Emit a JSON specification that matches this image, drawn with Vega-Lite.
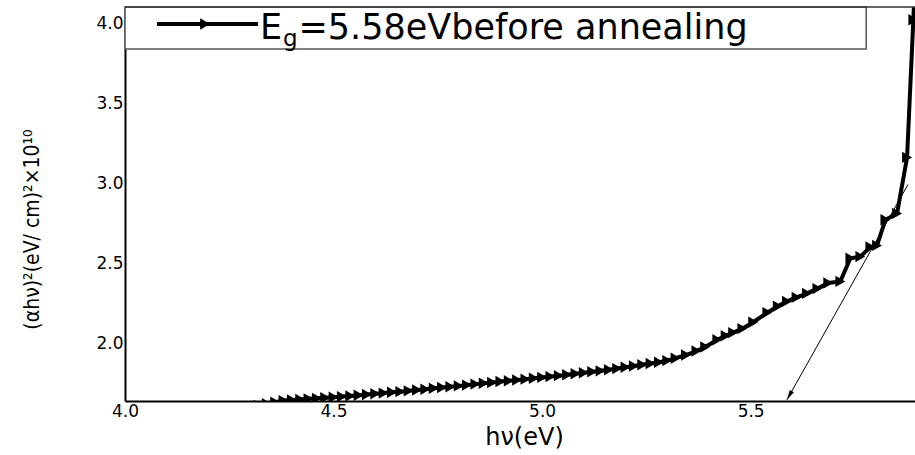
{
  "$schema": "https://vega.github.io/schema/vega-lite/v6.json",
  "width": 790,
  "height": 394,
  "autosize": {"type": "none"},
  "padding": {"left": 125, "top": 7, "right": 0, "bottom": 54},
  "background": "white",
  "config": {"view": {"stroke": null}, "font": "DejaVu Sans"},
  "datasets": {
    "curve": [
      {"e": 4.30, "v": 1.600}, {"e": 4.32, "v": 1.610}, {"e": 4.34, "v": 1.620}, {"e": 4.36, "v": 1.630},
      {"e": 4.38, "v": 1.640}, {"e": 4.40, "v": 1.644}, {"e": 4.42, "v": 1.647}, {"e": 4.44, "v": 1.651},
      {"e": 4.46, "v": 1.654}, {"e": 4.48, "v": 1.658}, {"e": 4.50, "v": 1.661}, {"e": 4.52, "v": 1.665},
      {"e": 4.54, "v": 1.669}, {"e": 4.56, "v": 1.673}, {"e": 4.58, "v": 1.678}, {"e": 4.60, "v": 1.683},
      {"e": 4.62, "v": 1.687}, {"e": 4.64, "v": 1.692}, {"e": 4.66, "v": 1.696}, {"e": 4.68, "v": 1.701},
      {"e": 4.70, "v": 1.706}, {"e": 4.72, "v": 1.711}, {"e": 4.74, "v": 1.717}, {"e": 4.76, "v": 1.722},
      {"e": 4.78, "v": 1.727}, {"e": 4.80, "v": 1.732}, {"e": 4.82, "v": 1.737}, {"e": 4.84, "v": 1.743},
      {"e": 4.86, "v": 1.748}, {"e": 4.88, "v": 1.753}, {"e": 4.90, "v": 1.759}, {"e": 4.92, "v": 1.764},
      {"e": 4.94, "v": 1.769}, {"e": 4.96, "v": 1.774}, {"e": 4.98, "v": 1.780}, {"e": 5.00, "v": 1.785},
      {"e": 5.02, "v": 1.790}, {"e": 5.04, "v": 1.796}, {"e": 5.06, "v": 1.802}, {"e": 5.08, "v": 1.808},
      {"e": 5.10, "v": 1.814}, {"e": 5.12, "v": 1.820}, {"e": 5.14, "v": 1.826}, {"e": 5.16, "v": 1.833},
      {"e": 5.18, "v": 1.840}, {"e": 5.20, "v": 1.848}, {"e": 5.22, "v": 1.856}, {"e": 5.24, "v": 1.864},
      {"e": 5.26, "v": 1.872}, {"e": 5.28, "v": 1.880}, {"e": 5.30, "v": 1.890}, {"e": 5.32, "v": 1.905},
      {"e": 5.345, "v": 1.925}, {"e": 5.37, "v": 1.950}, {"e": 5.391, "v": 1.975}, {"e": 5.42, "v": 2.02},
      {"e": 5.44, "v": 2.045}, {"e": 5.458, "v": 2.065}, {"e": 5.48, "v": 2.09}, {"e": 5.506, "v": 2.13},
      {"e": 5.54, "v": 2.19}, {"e": 5.565, "v": 2.23}, {"e": 5.587, "v": 2.26}, {"e": 5.61, "v": 2.285},
      {"e": 5.635, "v": 2.31}, {"e": 5.66, "v": 2.34}, {"e": 5.686, "v": 2.375}, {"e": 5.715, "v": 2.385},
      {"e": 5.739, "v": 2.53}, {"e": 5.763, "v": 2.54}, {"e": 5.787, "v": 2.60}, {"e": 5.803, "v": 2.61},
      {"e": 5.823, "v": 2.77}, {"e": 5.851, "v": 2.81}, {"e": 5.875, "v": 3.16}, {"e": 5.890, "v": 4.02},
      {"e": 5.896, "v": 4.40}
    ]
  },
  "layer": [
    {
      "data": {"name": "curve"},
      "mark": {"type": "line", "color": "black", "strokeWidth": 4, "clip": true},
      "encoding": {
        "x": {
          "field": "e", "type": "quantitative",
          "scale": {"domain": [4.0, 5.894], "nice": false, "zero": false},
          "axis": {
            "values": [4.0, 4.5, 5.0, 5.5], "format": ".1f", "grid": false,
            "ticks": false, "labelPadding": 2, "labelFont": "DejaVu Sans", "labelFontSize": 17,
            "labelColor": "black", "labelFlush": false, "labelOverlap": false,
            "domainColor": "black", "domainWidth": 2,
            "title": "hν(eV)", "titleFont": "DejaVu Sans", "titleFontSize": 24, "titleFontWeight": "normal",
            "titleColor": "black", "titleX": 399, "titleY": 36, "titleBaseline": "middle", "titleAlign": "center"
          }
        },
        "y": {
          "field": "v", "type": "quantitative",
          "scale": {"domain": [1.6375, 4.1], "nice": false, "zero": false},
          "axis": {
            "values": [2.0, 2.5, 3.0, 3.5, 4.0], "format": ".1f", "grid": false,
            "ticks": false, "labelPadding": 2, "labelFont": "DejaVu Sans", "labelFontSize": 17,
            "labelColor": "black", "labelFlush": false, "labelOverlap": false,
            "domainColor": "black", "domainWidth": 2,
            "title": "(αhν)²(eV/ cm)²×10¹⁰", "titleFont": "Liberation Sans Narrow, DejaVu Sans Condensed, Liberation Sans",
            "titleFontSize": 21, "titleFontWeight": "normal", "titleColor": "black",
            "titleX": -93, "titleY": 222, "titleAngle": 270, "titleAlign": "center", "titleBaseline": "middle"
          }
        }
      }
    },
    {
      "data": {"name": "curve"},
      "mark": {"type": "point", "shape": "triangle-right", "filled": true, "color": "black", "opacity": 1, "size": 130, "clip": true},
      "encoding": {
        "x": {"field": "e", "type": "quantitative"},
        "y": {"field": "v", "type": "quantitative"}
      }
    },
    {
      "data": {"values": [{"x1": 5.877, "y1": 2.99, "x2": 5.587, "y2": 1.645}]},
      "mark": {"type": "rule", "color": "black", "strokeWidth": 1},
      "encoding": {
        "x": {"field": "x1", "type": "quantitative"},
        "y": {"field": "y1", "type": "quantitative"},
        "x2": {"field": "x2"},
        "y2": {"field": "y2"}
      }
    },
    {
      "data": {"values": [{"x": 5.587, "y": 1.645}]},
      "mark": {"type": "point", "shape": "M0,0L-0.6,-2.5L0.6,-2.5Z", "filled": true, "color": "black", "opacity": 1, "size": 64, "angle": 29.4},
      "encoding": {
        "x": {"field": "x", "type": "quantitative"},
        "y": {"field": "y", "type": "quantitative"}
      }
    },
    {
      "data": {"values": [{"x1": 4.0, "x2": 5.777, "y1": 3.8375, "y2": 4.1}]},
      "mark": {"type": "rect", "fill": "white", "stroke": "#555555", "strokeWidth": 1.5},
      "encoding": {
        "x": {"field": "x1", "type": "quantitative"},
        "x2": {"field": "x2"},
        "y": {"field": "y1", "type": "quantitative"},
        "y2": {"field": "y2"}
      }
    },
    {
      "data": {"values": [{"v": 4.1}]},
      "mark": {"type": "rule", "color": "#333333", "strokeWidth": 1.5},
      "encoding": {"y": {"field": "v", "type": "quantitative"}}
    },
    {
      "data": {"values": [{"x1": 4.0767, "x2": 4.319, "y": 3.994}]},
      "mark": {"type": "rule", "color": "black", "strokeWidth": 4},
      "encoding": {
        "x": {"field": "x1", "type": "quantitative"},
        "x2": {"field": "x2"},
        "y": {"field": "y", "type": "quantitative"}
      }
    },
    {
      "data": {"values": [{"x": 4.192, "y": 3.994}]},
      "mark": {"type": "point", "shape": "triangle-right", "filled": true, "color": "black", "opacity": 1, "size": 130},
      "encoding": {
        "x": {"field": "x", "type": "quantitative"},
        "y": {"field": "y", "type": "quantitative"}
      }
    },
    {
      "data": {"values": [{"x": 4.3237, "y": 3.9, "t": "E"}]},
      "mark": {"type": "text", "align": "left", "baseline": "alphabetic", "font": "DejaVu Sans", "fontSize": 35, "color": "black"},
      "encoding": {
        "x": {"field": "x", "type": "quantitative"},
        "y": {"field": "y", "type": "quantitative"},
        "text": {"field": "t"}
      }
    },
    {
      "data": {"values": [{"x": 4.379, "y": 3.855, "t": "g"}]},
      "mark": {"type": "text", "align": "left", "baseline": "alphabetic", "font": "DejaVu Sans", "fontSize": 23, "color": "black"},
      "encoding": {
        "x": {"field": "x", "type": "quantitative"},
        "y": {"field": "y", "type": "quantitative"},
        "text": {"field": "t"}
      }
    },
    {
      "data": {"values": [{"x": 4.416, "y": 3.9, "t": "=5.58eVbefore annealing"}]},
      "mark": {"type": "text", "align": "left", "baseline": "alphabetic", "font": "DejaVu Sans", "fontSize": 35, "color": "black"},
      "encoding": {
        "x": {"field": "x", "type": "quantitative"},
        "y": {"field": "y", "type": "quantitative"},
        "text": {"field": "t"}
      }
    }
  ]
}
